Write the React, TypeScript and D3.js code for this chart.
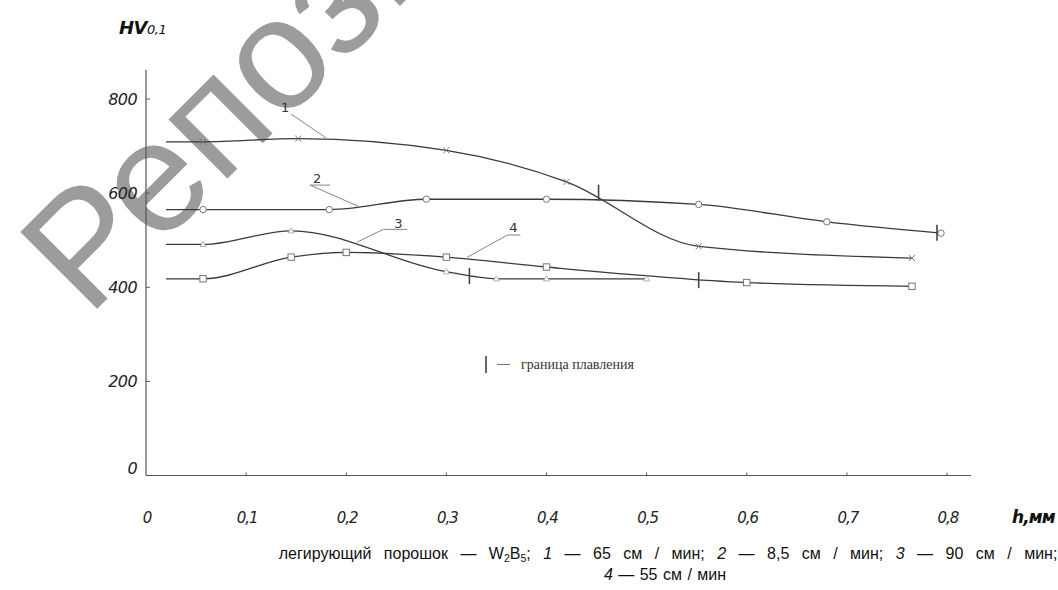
import React from "react";
import * as d3 from "d3";

// ---- axes ----
const xTicks = [0, 0.1, 0.2, 0.3, 0.4, 0.5, 0.6, 0.7, 0.8];
const xTickLabels = ["0", "0,1", "0,2", "0,3", "0,4", "0,5", "0,6", "0,7", "0,8"];
const yTicks = [0, 200, 400, 600, 800];
const yTickLabels = ["0", "200", "400", "600", "800"];

// ---- series (h, mm ; HV0,1) ----
const lineStartH = 0.02;
const h1 = [0.057, 0.152, 0.3, 0.42, 0.552, 0.765];
const hv1 = [709, 716, 691, 624, 487, 462];
const h2 = [0.057, 0.183, 0.28, 0.4, 0.552, 0.68, 0.794];
const hv2 = [565, 565, 587, 587, 576, 539, 515];
const h3 = [0.057, 0.145, 0.3, 0.35, 0.4, 0.5];
const hv3 = [491, 520, 433, 418, 418, 418];
const h4 = [0.057, 0.145, 0.2, 0.3, 0.4, 0.6, 0.765];
const hv4 = [418, 464, 474, 464, 443, 410, 402];

// melting boundary (h, HV) for each curve
const boundaryH = [0.452, 0.79, 0.323, 0.552];
const boundaryHV = [601, 516, 424, 415];

// curve labels: text position and leader line points (h, HV)
const curveNames = ["1", "2", "3", "4"];
const labelH = [0.139, 0.171, 0.252, 0.367];
const labelHV = [783, 633, 537, 529];
const leaderH = [
  [0.145, 0.18],
  [0.184, 0.164, 0.212],
  [0.261, 0.237, 0.211],
  [0.374, 0.361, 0.321],
];
const leaderHV = [
  [768, 717],
  [617, 617, 572],
  [523, 523, 496],
  [511, 511, 464],
];

const W = 1058;
const H = 590;

const x = d3.scaleLinear().domain([0, 0.8]).range([146, 947]);
const y = d3.scaleLinear().domain([0, 800]).range([475.5, 99]);

const lineGen = d3
  .line<[number, number]>()
  .x((d) => x(d[0]))
  .y((d) => y(d[1]))
  .curve(d3.curveMonotoneX);

type Series = { h: number[]; hv: number[]; marker: string };
const series: Series[] = [
  { h: h1, hv: hv1, marker: "cross" },
  { h: h2, hv: hv2, marker: "circle" },
  { h: h3, hv: hv3, marker: "triangle" },
  { h: h4, hv: hv4, marker: "square" },
];

const axisColor = "#555";
const lineColor = "#3a3a3a";
const markColor = "#777";
const numFont = "'DejaVu Sans', sans-serif";

function Marker({ kind, cx, cy }: { kind: string; cx: number; cy: number }) {
  if (kind === "cross") {
    const s = 3;
    return (
      <path
        d={`M${cx - s},${cy - s}L${cx + s},${cy + s}M${cx - s},${cy + s}L${cx + s},${cy - s}`}
        stroke={markColor}
        strokeWidth={1}
        fill="none"
      />
    );
  }
  if (kind === "circle") {
    return <circle cx={cx} cy={cy} r={3.2} fill="#fff" stroke={markColor} strokeWidth={1} />;
  }
  if (kind === "square") {
    return <rect x={cx - 3.2} y={cy - 3.2} width={6.4} height={6.4} fill="#fff" stroke={markColor} strokeWidth={1} />;
  }
  const s = 3;
  return (
    <path
      d={`M${cx},${cy - s}L${cx + s},${cy + s * 0.7}L${cx - s},${cy + s * 0.7}Z`}
      fill="#fff"
      stroke="#aaa"
      strokeWidth={0.9}
    />
  );
}

export default function App() {
  const axisTopY = 70;
  const axisRightX = 971;
  return (
    <svg
      width={W}
      height={H}
      viewBox={`0 0 ${W} ${H}`}
      style={{ position: "absolute", left: 0, top: 0, background: "#fff" }}
    >
      <rect width={W} height={H} fill="#fff" />
      {/* watermark */}
      <text
        transform="translate(88,318) rotate(-45)"
        fontFamily="'Liberation Sans', Arial, sans-serif"
        fontSize={158}
        fill="#9c9c9c"
      >
        Репозиторий
      </text>

      {/* axes */}
      <line x1={x(0)} y1={y(0)} x2={x(0)} y2={axisTopY} stroke={axisColor} strokeWidth={1.2} />
      <line x1={x(0)} y1={y(0)} x2={axisRightX} y2={y(0)} stroke={axisColor} strokeWidth={1.2} />
      {yTicks.map((t, i) => (
        <g key={"y" + i}>
          {t > 0 && <line x1={x(0)} x2={x(0) + 4} y1={y(t)} y2={y(t)} stroke={axisColor} strokeWidth={1} />}
          <text
            x={137}
            y={y(t) + (t === 0 ? -2 : 5.5)}
            textAnchor="end"
            fontFamily={numFont}
            fontStyle="italic"
            fontWeight="normal"
            fontSize={16}
            letterSpacing={-0.6}
            fill="#222"
          >
            {yTickLabels[i]}
          </text>
        </g>
      ))}
      {xTicks.map((t, i) => (
        <g key={"x" + i}>
          {t > 0 && <line x1={x(t)} x2={x(t)} y1={y(0)} y2={y(0) - 3} stroke={axisColor} strokeWidth={1} />}
          <text
            x={x(t) + 1}
            y={523}
            textAnchor="middle"
            fontFamily={numFont}
            fontStyle="italic"
            fontWeight="normal"
            fontSize={15}
            letterSpacing={-1}
            fill="#222"
          >
            {xTickLabels[i]}
          </text>
        </g>
      ))}
      <text
        x={1012}
        y={523}
        fontFamily={numFont}
        fontStyle="italic"
        fontWeight="bold"
        fontSize={17}
        letterSpacing={-0.9}
        fill="#111"
      >
        h,мм
      </text>
      <text x={119} y={34} fontFamily={numFont} fontStyle="italic" fill="#111">
        <tspan fontWeight="bold" fontSize={18} letterSpacing={-0.5}>HV</tspan>
        <tspan fontSize={13} fontWeight="normal" letterSpacing={-0.5}>0,1</tspan>
      </text>

      {/* curves */}
      {series.map((s, si) => {
        const pts: [number, number][] = [[lineStartH, s.hv[0]], ...s.h.map((h, i) => [h, s.hv[i]] as [number, number])];
        return (
          <g key={"s" + si}>
            <path d={lineGen(pts) || ""} fill="none" stroke={lineColor} strokeWidth={1.3} />
          </g>
        );
      })}
      {series.map((s, si) => (
        <g key={"m" + si}>
          {s.h.map((h, i) => (
            <Marker key={i} kind={s.marker} cx={x(h)} cy={y(s.hv[i])} />
          ))}
        </g>
      ))}
      {/* melting boundary ticks */}
      {boundaryH.map((h, i) => (
        <line
          key={"b" + i}
          x1={x(h)}
          x2={x(h)}
          y1={y(boundaryHV[i]) - 8}
          y2={y(boundaryHV[i]) + 8}
          stroke="#444"
          strokeWidth={1.6}
        />
      ))}

      {/* curve labels */}
      {curveNames.map((n, i) => {
        const lp: [number, number][] = leaderH[i].map((h, j) => [x(h), y(leaderHV[i][j])]);
        return (
          <g key={"l" + i}>
            <path d={d3.line()(lp) || ""} fill="none" stroke="#777" strokeWidth={0.9} />
            <text
              x={x(labelH[i])}
              y={y(labelHV[i]) + 5}
              textAnchor="middle"
              fontFamily={numFont}
              fontSize={13}
              fill="#333"
            >
              {n}
            </text>
          </g>
        );
      })}

      {/* legend */}
      <line x1={486} x2={486} y1={356} y2={373} stroke="#555" strokeWidth={1.8} />
      <line x1={497} x2={510} y1={364.5} y2={364.5} stroke="#777" strokeWidth={1} />
      <text x={521} y={368.5} fontFamily="'Liberation Serif', 'Times New Roman', serif" fontSize={14} fill="#333">
        граница плавления
      </text>

      {/* caption */}
      <text
        x={668}
        y={559}
        textAnchor="middle"
        fontFamily="'Liberation Sans', Arial, sans-serif"
        fontSize={16}
        wordSpacing={8}
        fill="#111"
      >
        легирующий порошок — W<tspan fontSize={10.5} dy={3}>2</tspan>
        <tspan dy={-3}>B</tspan>
        <tspan fontSize={10.5} dy={3}>5</tspan>
        <tspan dy={-3}>; </tspan>
        <tspan fontStyle="italic">1</tspan> — 65 см / мин; <tspan fontStyle="italic">2</tspan> — 8,5 см / мин;{" "}
        <tspan fontStyle="italic">3</tspan> — 90 см / мин;
      </text>
      <text
        x={665}
        y={580}
        textAnchor="middle"
        fontFamily="'Liberation Sans', Arial, sans-serif"
        fontSize={16}
        wordSpacing={1}
        fill="#111"
      >
        <tspan fontStyle="italic">4</tspan> — 55 см / мин
      </text>
    </svg>
  );
}
